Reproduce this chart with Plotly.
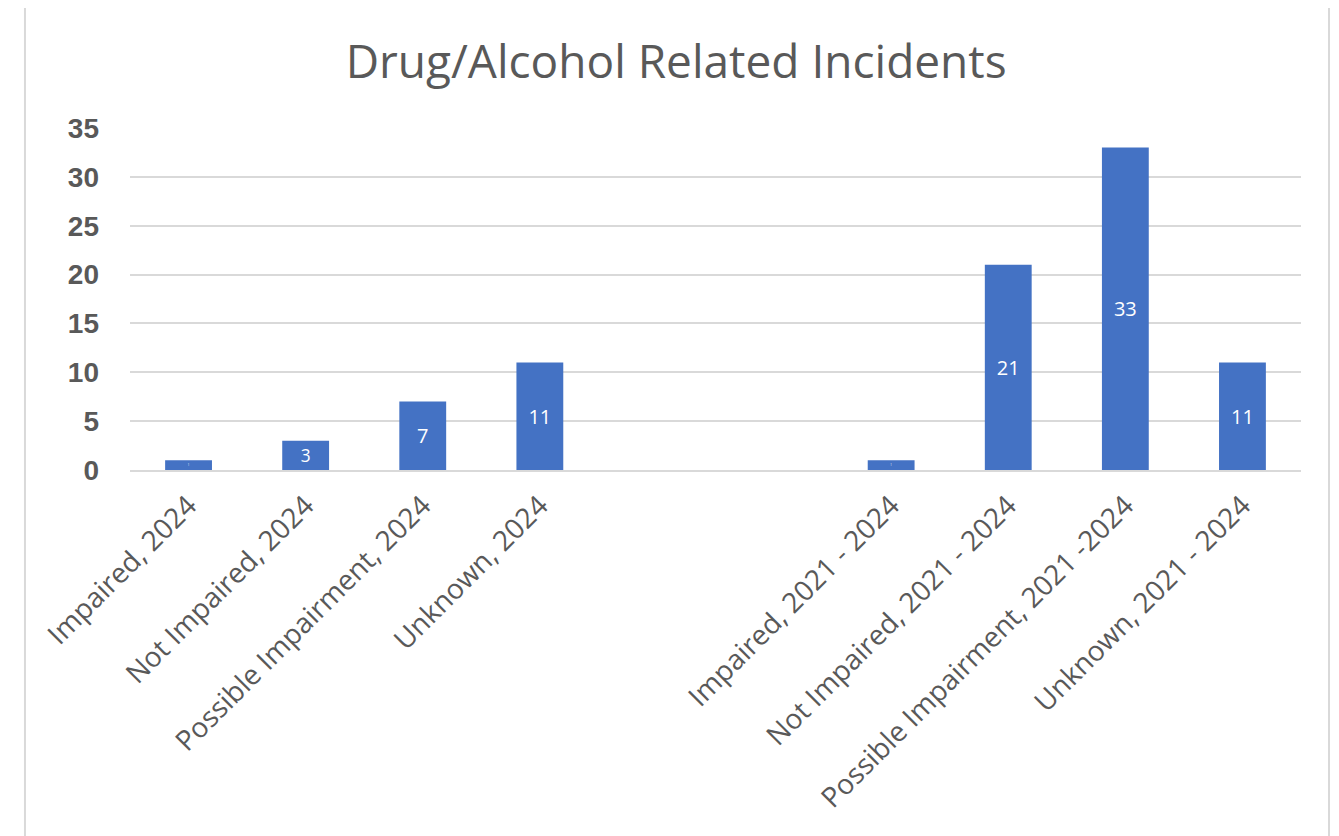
import plotly.graph_objects as go

# categories (two blank slots separate the 2024 group from the 2021-2024 group)
categories = [
    "Impaired, 2024",
    "Not Impaired, 2024",
    "Possible Impairment, 2024",
    "Unknown, 2024",
    " ",
    "  ",
    "Impaired, 2021 - 2024",
    "Not Impaired, 2021 - 2024",
    "Possible Impairment, 2021 -2024",
    "Unknown, 2021 - 2024",
]
incidents = [1, 3, 7, 11, None, None, 1, 21, 33, 11]
y_ticks = [0, 5, 10, 15, 20, 25, 30, 35]

grey = "#595959"
fig = go.Figure()
fig.add_trace(go.Bar(
    x=categories,
    y=incidents,
    marker=dict(color="#4472C4", line=dict(width=0)),
    text=[("" if v is None else str(v)) for v in incidents],
    textposition="inside",
    insidetextanchor="middle",
    textangle=0,
    textfont=dict(family="Open Sans", size=20, color="white"),
    hoverinfo="x+y",
))

fig.update_layout(
    width=1339, height=836,
    margin=dict(l=122, r=46, t=120, b=374),
    paper_bgcolor="white", plot_bgcolor="white",
    bargap=0.6,
    showlegend=False,
    title=dict(
        text="Drug/Alcohol Related Incidents",
        x=0.499, xanchor="center", y=0.935, yanchor="middle",
        font=dict(family="Open Sans", size=46, color=grey),
    ),
    xaxis=dict(
        type="category",
        tickangle=-45,
        tickfont=dict(family="Open Sans", size=28, color=grey),
        showgrid=False,
        showline=True, linecolor="#D9D9D9", linewidth=2,
        ticks="", ticklabelstandoff=6,
    ),
    yaxis=dict(
        range=[0, 35],
        tickvals=y_ticks,
        tickfont=dict(family="Liberation Sans", size=28, color=grey, weight="bold"),
        showgrid=True, gridcolor="#D9D9D9", gridwidth=1.5,
        zeroline=False,
        ticks="", ticklabelstandoff=30,
    ),
    shapes=[dict(
        type="rect", xref="paper", yref="paper",
        x0=-0.0897, x1=1.0239, y0=-1.2, y1=1.3538,
        line=dict(color="#D9D9D9", width=2), fillcolor="rgba(0,0,0,0)",
        layer="below",
    )],
)

fig.write_html("out.html")
